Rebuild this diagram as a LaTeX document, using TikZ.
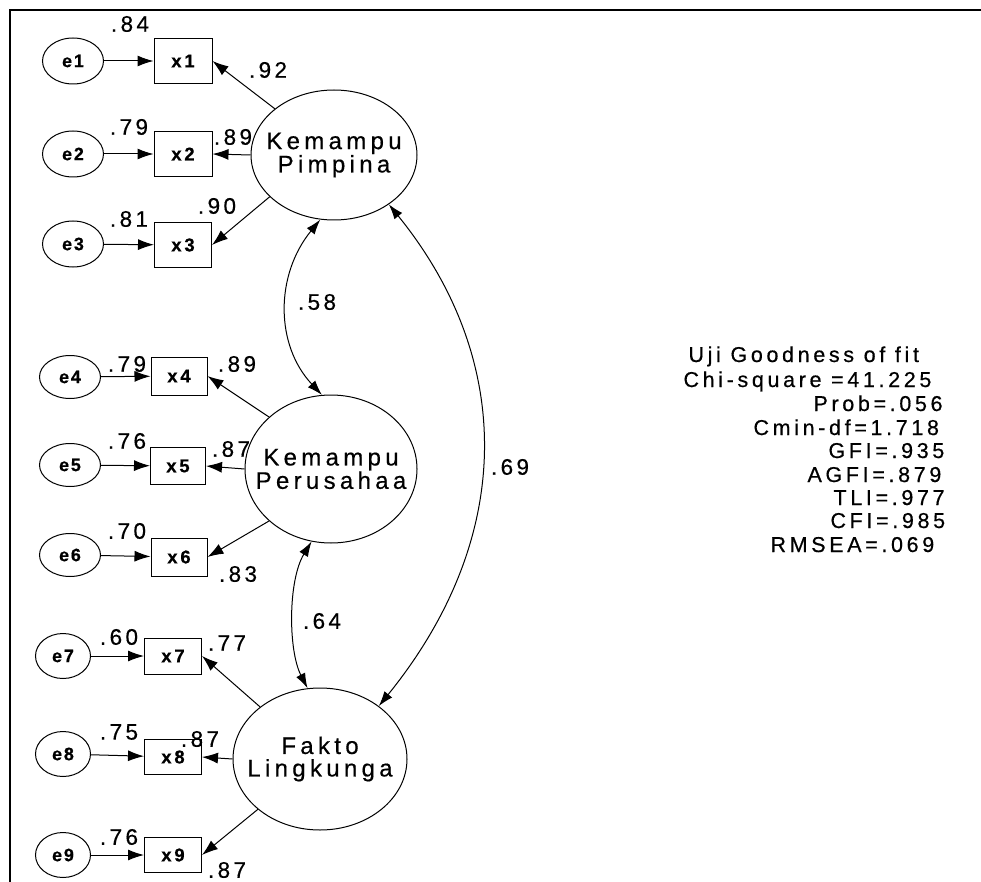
\documentclass[tikz,border=0pt]{standalone}
\usepackage{fontspec}
\setmainfont{Liberation Sans}[LetterSpace=15,FakeBold=0.5]
\usetikzlibrary{arrows.meta,shapes.geometric}
\begin{document}
\begin{tikzpicture}[x=1pt,y=-1pt,
  line width=1pt,
  arr/.style={-{Latex[length=16pt,width=11pt]}},
  cov/.style={{Latex[length=15pt,width=10pt]}-{Latex[length=15pt,width=10pt]}},
  err/.style={ellipse,draw,inner sep=0pt,font=\fontsize{18}{18}\selectfont\bfseries\addfontfeature{LetterSpace=10}},
  obs/.style={rectangle,draw,inner sep=0pt,font=\fontsize{18.5}{18}\selectfont\bfseries},
  lat/.style={ellipse,draw,inner xsep=-30pt,inner ysep=0pt,align=center,font=\fontsize{24}{21}\selectfont\addfontfeature{LetterSpace=18}},
  lbl/.style={inner sep=0pt,font=\fontsize{22.5}{22}\selectfont},
  gof/.style={inner sep=0pt,anchor=base west,font=\fontsize{21.5}{21}\selectfont\addfontfeature{LetterSpace=17}}]
\useasboundingbox (0,0) rectangle (981,882);
\fill[white] (0,0) rectangle (981,882);
\draw[line width=1.6pt] (10,882) -- (10,10) -- (981,10);

% error terms
\node[err,minimum width=61pt,minimum height=46pt] (e1) at (73,61) {e1};
\node[err,minimum width=61pt,minimum height=46pt] (e2) at (73,154) {e2};
\node[err,minimum width=61pt,minimum height=46pt] (e3) at (73,244) {e3};
\node[err,minimum width=61pt,minimum height=43pt] (e4) at (70,377) {e4};
\node[err,minimum width=61pt,minimum height=43pt] (e5) at (70,465) {e5};
\node[err,minimum width=61pt,minimum height=43pt] (e6) at (70,555) {e6};
\node[err,minimum width=55pt,minimum height=45pt] (e7) at (63,656) {e7};
\node[err,minimum width=55pt,minimum height=45pt] (e8) at (63,754) {e8};
\node[err,minimum width=55pt,minimum height=45pt] (e9) at (63,855) {e9};

% observed
\node[obs,minimum width=58pt,minimum height=45pt] (x1) at (183,61) {x1};
\node[obs,minimum width=58pt,minimum height=45pt] (x2) at (183,154) {x2};
\node[obs,minimum width=57pt,minimum height=45pt] (x3) at (183,245) {x3};
\node[obs,minimum width=56pt,minimum height=38pt] (x4) at (179,376) {x4};
\node[obs,minimum width=55pt,minimum height=37pt] (x5) at (178,466) {x5};
\node[obs,minimum width=56pt,minimum height=38pt] (x6) at (179,557) {x6};
\node[obs,minimum width=57pt,minimum height=36pt] (x7) at (173,656) {x7};
\node[obs,minimum width=57pt,minimum height=35pt] (x8) at (173,757) {x8};
\node[obs,minimum width=57pt,minimum height=35pt] (x9) at (173,855) {x9};

% latent
\node[lat,minimum width=166pt,minimum height=130pt] (pp) at (334,155) {Kemampu\\Pimpina};
\node[lat,minimum width=172pt,minimum height=148pt] (pe) at (331,469) {Kemampu\\Perusahaa};
\node[lat,minimum width=174pt,minimum height=142pt] (fl) at (320,759) {Fakto\\[1.5pt]Lingkunga};

% error arrows
\foreach \i in {1,...,9} { \draw[arr] (e\i) -- (x\i); }

% loadings
\draw[arr] (pp.142) -- (x1.east);
\draw[arr] (pp.west) -- (x2.east);
\draw[arr] (pp.213) -- (x3.east);
\draw[arr] (pe.140) -- (x4.east);
\draw[arr] (pe.west) -- (x5.east);
\draw[arr] (pe.220) -- (x6.east);
\draw[arr] (fl.139) -- (x7.east);
\draw[arr] (fl.west) -- (x8.east);
\draw[arr] (fl.219) -- (x9.east);

% covariances
\draw[cov] (pp.258) .. controls (275,275) and (275,345) .. (pe.97);
\draw[cov] (pp.318) .. controls (515,360) and (515,538) .. (fl.42);
\draw[cov] (pe.255) .. controls (288,580) and (288,650) .. (fl.100);

% labels
\node[lbl] (l1) at (130,24) {.84};
\node[lbl] (l2) at (268,70) {.92};
\node[lbl] (l3) at (129,127) {.79};
\node[lbl] (l4) at (233,137) {.89};
\node[lbl] (l5) at (217,206) {.90};
\node[lbl] (l6) at (129,219) {.81};
\node[lbl] (l7) at (317,302) {.58};
\node[lbl] (l8) at (127,364) {.79};
\node[lbl] (l9) at (237,364) {.89};
\node[lbl] (l10) at (127,441) {.76};
\node[lbl] (l11) at (231,449) {.87};
\node[lbl] (l12) at (510,467) {.69};
\node[lbl] (l13) at (127,531) {.70};
\node[lbl] (l14) at (238,574) {.83};
\node[lbl] (l15) at (322,621) {.64};
\node[lbl] (l16) at (119,637) {.60};
\node[lbl] (l17) at (227,643) {.77};
\node[lbl] (l18) at (119,732) {.75};
\node[lbl] (l19) at (200,739) {.87};
\node[lbl] (l20) at (119,837) {.76};
\node[lbl] (l21) at (227,870) {.87};

% goodness of fit
\node[gof] (g1) at (688,362) {Uji Goodness of fit};
\node[gof] (g2) at (683,387) {Chi-square =41.225};
\node[gof] (g3) at (813,411) {Prob=.056};
\node[gof] (g4) at (753,435) {Cmin-df=1.718};
\node[gof] (g5) at (828,458) {GFI=.935};
\node[gof] (g6) at (807,482) {AGFI=.879};
\node[gof] (g7) at (833,505) {TLI=.977};
\node[gof] (g8) at (830,528) {CFI=.985};
\node[gof] (g9) at (770,552) {RMSEA=.069};
\end{tikzpicture}
\end{document}
